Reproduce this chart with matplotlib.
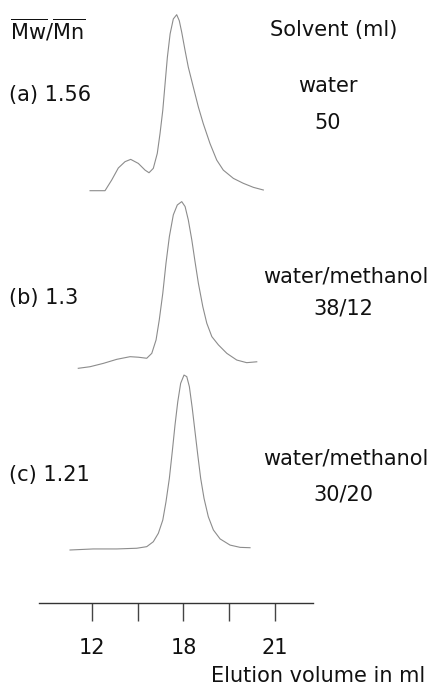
import matplotlib
matplotlib.use("Agg")
import matplotlib.pyplot as plt

plt.rcParams['font.family'] = ['DejaVu Sans']
plt.rcParams['mathtext.fontset'] = 'dejavusans'

# ---- data (elution volume in ml, relative intensity) ----
vol_a = [11.89, 12.87, 13.31, 13.74, 14.18, 14.55, 15.05, 15.49, 15.75, 16.03, 16.29,
         16.47, 16.65, 16.80, 16.95, 17.13, 17.34, 17.56, 17.73, 17.89, 18.11, 18.32,
         18.65, 18.98, 19.30, 19.74, 20.18, 20.61, 21.27, 21.92, 22.58, 23.23]
int_a = [0.0, 0.0, 0.061, 0.129, 0.165, 0.178, 0.155, 0.117, 0.102, 0.127, 0.212,
         0.325, 0.457, 0.608, 0.758, 0.891, 0.976, 1.0, 0.966, 0.900, 0.796, 0.702,
         0.588, 0.475, 0.381, 0.268, 0.174, 0.117, 0.070, 0.042, 0.019, 0.004]

vol_b = [11.12, 11.89, 12.76, 13.64, 14.51, 15.05, 15.60, 15.93, 16.21, 16.42, 16.65,
         16.86, 17.08, 17.34, 17.60, 17.89, 18.11, 18.32, 18.55, 18.76, 18.98, 19.27,
         19.53, 19.86, 20.29, 20.84, 21.49, 22.14, 22.80]
int_b = [0.0, 0.009, 0.028, 0.051, 0.066, 0.063, 0.057, 0.085, 0.161, 0.275, 0.426,
         0.597, 0.748, 0.872, 0.928, 0.947, 0.919, 0.843, 0.729, 0.606, 0.483, 0.350,
         0.256, 0.180, 0.133, 0.085, 0.047, 0.032, 0.037]

vol_c = [10.58, 12.10, 13.64, 14.95, 15.60, 16.03, 16.36, 16.65, 16.86, 17.08, 17.27,
         17.45, 17.63, 17.82, 18.04, 18.22, 18.39, 18.58, 18.76, 18.94, 19.13, 19.35,
         19.63, 19.96, 20.40, 21.05, 21.71, 22.36]
int_c = [0.0, 0.006, 0.006, 0.010, 0.019, 0.047, 0.095, 0.170, 0.274, 0.407, 0.558,
         0.710, 0.842, 0.947, 0.994, 0.985, 0.928, 0.805, 0.672, 0.540, 0.407, 0.293,
         0.189, 0.114, 0.063, 0.028, 0.015, 0.013]

sample_labels = ['(a) 1.56', '(b) 1.3', '(c) 1.21']
solvent_names = ['water', 'water/methanol', 'water/methanol']
solvent_ratios = ['50', '38/12', '30/20']
tick_values = [12, 15, 18, 21, 24]
tick_labels = ['12', '', '18', '', '21']

# ---- layout ----
W, H = 428, 688
fig = plt.figure(figsize=(W / 100, H / 100), dpi=100)
ax_left, ax_right, ax_bottom = 39, 313, 603
ax = fig.add_axes([ax_left / W, 1 - ax_bottom / H, (ax_right - ax_left) / W, ax_bottom / H])
ax.set_xlim(8.55, 26.48)
unit_px = 176.0
ax.set_ylim(0, ax_bottom / unit_px)

offsets = [(ax_bottom - 190.7) / unit_px, (ax_bottom - 368.3) / unit_px, (ax_bottom - 550.0) / unit_px]
line_kw = dict(color='#8c8c8c', lw=0.8)
for vols, ints, off in zip([vol_a, vol_b, vol_c], [int_a, int_b, int_c], offsets):
    ax.plot(vols, [v + off for v in ints], **line_kw)

for s in ['top', 'right', 'left']:
    ax.spines[s].set_visible(False)
ax.spines['bottom'].set_color('#333333')
ax.spines['bottom'].set_linewidth(1.0)
ax.set_yticks([])
ax.set_xticks(tick_values)
ax.set_xticklabels(tick_labels)
fs = 15
ax.tick_params(axis='x', direction='out', length=13, width=1.0, color='#444444',
               pad=12, labelsize=fs, labelcolor='#111111')
ax.patch.set_visible(False)

tc = '#111111'
def ftext(x, y, s, ha='left', **kw):
    fig.text(x / W, 1 - y / H, s, ha=ha, va='center', fontsize=fs, color=tc, **kw)

ftext(10, 30, r'$\overline{\mathrm{Mw}}/\overline{\mathrm{Mn}}$')
ftext(270, 30, 'Solvent (ml)')
label_y = [95, 298, 475]
name_y = [86, 277, 458]
ratio_y = [123, 308, 495]
for lab, ly in zip(sample_labels, label_y):
    ftext(9, ly, lab)
ftext(328, name_y[0], solvent_names[0], ha='center')
ftext(428, name_y[1], solvent_names[1], ha='right')
ftext(428, name_y[2], solvent_names[2], ha='right')
ftext(328, ratio_y[0], solvent_ratios[0], ha='center')
ftext(343, ratio_y[1], solvent_ratios[1], ha='center')
ftext(343, ratio_y[2], solvent_ratios[2], ha='center')
ftext(425, 676, 'Elution volume in ml', ha='right')

fig.savefig('out.png', dpi=100)
